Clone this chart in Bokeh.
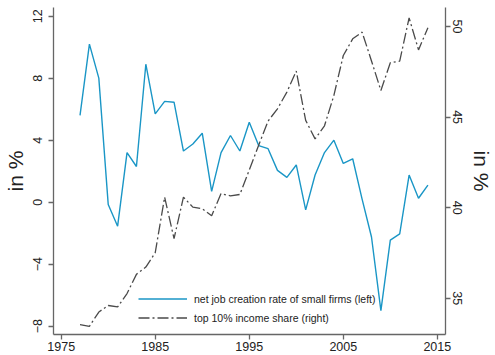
import math
from bokeh.plotting import figure
from bokeh.models import (Range1d, LinearAxis, FixedTicker, Legend, LegendItem,
                          ColumnDataSource)
from bokeh.embed import file_html
from bokeh.resources import INLINE

# Annual series, 1977-2014
years = list(range(1977, 2015))
job_creation = [5.6, 10.2, 8.0, -0.15, -1.55, 3.2, 2.3, 8.9, 5.7, 6.5,
                6.45, 3.3, 3.75, 4.45, 0.7, 3.2, 4.3, 3.3, 5.15, 3.65,
                3.45, 2.05, 1.6, 2.4, -0.5, 1.75, 3.2, 4.0, 2.5, 2.8,
                0.2, -2.25, -7.0, -2.45, -2.05, 1.75, 0.25, 1.1]
top10_share = [33.55, 33.45, 34.24, 34.6, 34.52, 35.26, 36.32, 36.72, 37.52, 40.58,
               38.29, 40.58, 40.03, 39.94, 39.55, 40.78, 40.65, 40.73, 42.08, 43.45,
               44.78, 45.46, 46.38, 47.54, 44.82, 43.8, 44.52, 46.2, 48.4, 49.32,
               49.69, 48.1, 46.47, 48.0, 48.09, 50.48, 48.71, 49.93]

x_ticks = [1975, 1985, 1995, 2005, 2015]
left_ticks = [-8, -4, 0, 4, 8, 12]
right_ticks = [35, 40, 45, 50]

BLUE = "#1a96c6"
DARK = "#4a4a4a"
AXIS = "#666666"
FONT = "Liberation Sans"

src = ColumnDataSource(dict(year=years, jc=job_creation, share=top10_share))

p = figure(width=495, height=355, output_backend="svg", toolbar_location=None,
           x_range=Range1d(1974.18, 2015.87), y_range=Range1d(-8.54, 12.56),
           min_border_left=52, min_border_right=37, min_border_top=7,
           min_border_bottom=21)
p.extra_y_ranges = {"share": Range1d(33.0, 51.05)}
p.outline_line_color = None
p.xgrid.visible = False
p.ygrid.visible = False
p.background_fill_color = "white"
p.border_fill_color = "white"

r_jc = p.line("year", "jc", source=src, line_color=BLUE, line_width=1.4)
r_sh = p.line("year", "share", source=src, y_range_name="share",
              line_color=DARK, line_width=1.3, line_dash="11 3 2 3")

right_axis = LinearAxis(y_range_name="share")
p.add_layout(right_axis, "right")

def style_axis(ax, ticks):
    ax.ticker = FixedTicker(ticks=ticks)
    ax.axis_line_color = AXIS
    ax.axis_line_width = 1.3
    ax.major_tick_line_color = AXIS
    ax.major_tick_line_width = 1.3
    ax.major_tick_out = 5
    ax.major_tick_in = 0
    ax.minor_tick_line_color = None
    ax.major_label_text_font = FONT
    ax.major_label_text_font_size = "12.5px"
    ax.major_label_text_color = "#222222"
    ax.axis_label_text_font = FONT
    ax.axis_label_text_font_size = "21px"
    ax.axis_label_text_font_style = "normal"
    ax.axis_label_text_color = "#222222"

xaxis = p.xaxis[0]
style_axis(xaxis, x_ticks)
xaxis.major_label_standoff = 2

left_axis = p.yaxis[0]
style_axis(left_axis, left_ticks)
left_axis.major_label_orientation = "vertical"
left_axis.axis_label = "in %"
left_axis.major_label_standoff = 6
left_axis.axis_label_standoff = 4
left_axis.major_label_overrides = {t: (str(t).replace("-", "\u2212")) for t in left_ticks}

style_axis(right_axis, right_ticks)
right_axis.major_label_orientation = "vertical"
right_axis.axis_label = "in %"
right_axis.axis_label_orientation = "vertical"
right_axis.major_label_standoff = 2
right_axis.axis_label_standoff = 5

legend = Legend(items=[
    LegendItem(label="net job creation rate of small firms (left)", renderers=[r_jc]),
    LegendItem(label="top 10% income share (right)", renderers=[r_sh]),
], location=(85, 7), orientation="vertical")
legend.border_line_color = None
legend.background_fill_alpha = 0
legend.padding = 0
legend.margin = 0
legend.spacing = 0
legend.glyph_width = 49
legend.glyph_height = 19
legend.label_height = 19
legend.label_standoff = 7
legend.label_text_font = FONT
legend.label_text_font_size = "10.5px"
legend.label_text_color = "#222222"
p.add_layout(legend, "center")

open("out.html", "w").write(file_html(p, INLINE))
